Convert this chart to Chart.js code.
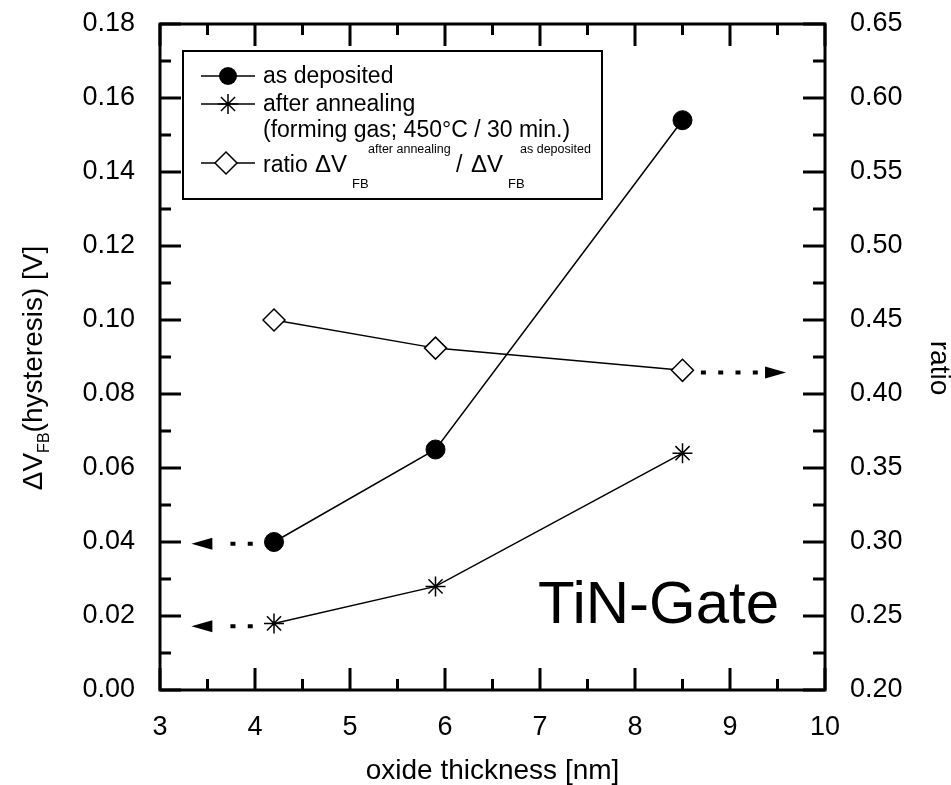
<!DOCTYPE html>
<html>
<head>
<meta charset="utf-8">
<script src="https://cdn.jsdelivr.net/npm/chart.js@4.4.1/dist/chart.umd.min.js"></script>
<style>
  html, body { margin: 0; padding: 0; background: #fff; }
  #wrap { width: 951px; height: 785px; }
</style>
</head>
<body>
<div id="wrap"><canvas id="chart" width="951" height="785"></canvas></div>
<script>
// values
const thickness = [4.2, 5.9, 8.5];                 // oxide thickness [nm]
const asDeposited = [0.040, 0.065, 0.154];         // dVFB [V]
const afterAnnealing = [0.018, 0.028, 0.064];      // dVFB [V]
const ratio = [0.450, 0.431, 0.416];               // after / as deposited

const xTicks = [3, 4, 5, 6, 7, 8, 9, 10];
const yTicks = [0, 0.02, 0.04, 0.06, 0.08, 0.10, 0.12, 0.14, 0.16, 0.18];
const y2Ticks = [0.20, 0.25, 0.30, 0.35, 0.40, 0.45, 0.50, 0.55, 0.60, 0.65];

// dotted arrows pointing at the axis each curve belongs to: [fromX, toX, y, axis]
const axisArrows = [
    [3.95, 3.33, 0.0395, 'y'],
    [3.95, 3.33, 0.0172, 'y'],
    [8.72, 9.59, 0.4145, 'y2']
];

const FONT = 'Arial, "Liberation Sans", Helvetica, sans-serif';

const pts = (ys) => thickness.map((x, i) => ({ x: x, y: ys[i] }));
const fixTicks = (arr) => (scale) => { scale.ticks = arr.map(v => ({ value: v })); };

// plot frame, inward ticks on all four sides
const frameTicks = {
    id: 'frameTicks',
    afterDraw(chart) {
        const { ctx, chartArea: a, scales } = chart;
        ctx.save();
        ctx.strokeStyle = '#000';
        ctx.lineWidth = 3;
        ctx.lineCap = 'butt';
        ctx.beginPath();
        const tick = (x1, y1, x2, y2) => { ctx.moveTo(x1, y1); ctx.lineTo(x2, y2); };
        // x (bottom and top)
        for (let v = 3; v <= 10.001; v += 0.5) {
            const px = scales.x.getPixelForValue(v);
            const len = Math.abs(v - Math.round(v)) < 1e-6 ? 22 : 11;
            tick(px, a.bottom, px, a.bottom - len);
            tick(px, a.top, px, a.top + len);
        }
        // left
        for (let i = 0; i <= 18; i++) {
            const py = scales.y.getPixelForValue(i * 0.01);
            tick(a.left, py, a.left + (i % 2 === 0 ? 21 : 11), py);
        }
        // right
        for (let i = 0; i <= 18; i++) {
            const py = scales.y2.getPixelForValue(0.2 + i * 0.025);
            tick(a.right, py, a.right - (i % 2 === 0 ? 22 : 12), py);
        }
        ctx.stroke();
        ctx.strokeRect(a.left, a.top, a.right - a.left, a.bottom - a.top);
        ctx.restore();
    }
};

// the dotted arrows, legend, titles and label
const decorations = {
    id: 'decorations',
    afterDraw(chart) {
        const { ctx, scales } = chart;
        ctx.save();

        // arrows
        axisArrows.forEach(([x0, x1, yv, axis]) => {
            const px0 = scales.x.getPixelForValue(x0);
            const px1 = scales.x.getPixelForValue(x1);
            const py = scales[axis].getPixelForValue(yv);
            const dir = Math.sign(px1 - px0);
            const headLen = 21;
            const base = px1 - dir * headLen;
            ctx.strokeStyle = '#000';
            ctx.lineWidth = 4;
            ctx.setLineDash([5, 12.3]);
            ctx.beginPath();
            ctx.moveTo(px0 - dir * 2.5, py);
            ctx.lineTo(base - dir * 6, py);
            ctx.stroke();
            ctx.setLineDash([]);
            ctx.fillStyle = '#000';
            ctx.beginPath();
            ctx.moveTo(px1, py);
            ctx.lineTo(base, py - 6);
            ctx.lineTo(base, py + 6);
            ctx.closePath();
            ctx.fill();
        });

        // legend box
        ctx.fillStyle = '#fff';
        ctx.fillRect(183, 51, 419, 148);
        ctx.strokeStyle = '#000';
        ctx.lineWidth = 2;
        ctx.strokeRect(183, 51, 419, 148);

        const sample = (y, style) => {
            ctx.strokeStyle = '#000';
            ctx.lineWidth = 1.5;
            ctx.beginPath();
            ctx.moveTo(201, y);
            ctx.lineTo(255, y);
            ctx.stroke();
            if (style === 'circle') {
                ctx.fillStyle = '#000';
                ctx.beginPath();
                ctx.arc(228, y, 9, 0, Math.PI * 2);
                ctx.fill();
            } else if (style === 'star') {
                ctx.beginPath();
                for (let k = 0; k < 4; k++) {
                    const ang = k * Math.PI / 4;
                    ctx.moveTo(228 - Math.cos(ang) * 10, y - Math.sin(ang) * 10);
                    ctx.lineTo(228 + Math.cos(ang) * 10, y + Math.sin(ang) * 10);
                }
                ctx.stroke();
            } else {
                ctx.fillStyle = '#fff';
                ctx.beginPath();
                ctx.moveTo(226, y - 11);
                ctx.lineTo(237, y);
                ctx.lineTo(226, y + 11);
                ctx.lineTo(215, y);
                ctx.closePath();
                ctx.fill();
                ctx.stroke();
            }
        };

        ctx.textBaseline = 'alphabetic';
        ctx.textAlign = 'left';
        const main = '23px ' + FONT;
        const small = '13px ' + FONT;
        const sup = '12.5px ' + FONT;
        const text = (txt, font, x, y) => {
            ctx.fillStyle = '#000';
            ctx.font = font;
            ctx.fillText(txt, x, y);
        };

        sample(76, 'circle');
        text('as deposited', main, 263, 83);
        sample(104, 'star');
        text('after annealing', main, 263, 111);
        text('(forming gas; 450°C / 30 min.)', main, 263, 137);

        sample(163, 'diamond');
        // ratio ΔV_FB^after annealing / ΔV_FB^as deposited
        text('ratio', main, 263, 172);
        text('\u0394V', '24px ' + FONT, 315, 172);
        text('FB', small, 352, 188);
        text('after annealing', sup, 368, 153);
        text('/', main, 456, 172);
        text('\u0394V', '24px ' + FONT, 471, 172);
        text('FB', small, 508, 188);
        text('as deposited', sup, 520, 153);

        // left axis title (rotated)
        ctx.save();
        ctx.translate(42, 368);
        ctx.rotate(-Math.PI / 2);
        const tMain = '28px ' + FONT;
        const tSub = '16px ' + FONT;
        ctx.font = tMain;
        const w1 = ctx.measureText('\u0394V').width;
        const w3 = ctx.measureText('(hysteresis) [V]').width;
        ctx.font = tSub;
        const w2 = ctx.measureText('FB').width;
        let tx = -(w1 + w2 + w3) / 2;
        ctx.font = tMain;
        ctx.fillText('\u0394V', tx, 0);
        tx += w1;
        ctx.font = tSub;
        ctx.fillText('FB', tx, 7);
        tx += w2;
        ctx.font = tMain;
        ctx.fillText('(hysteresis) [V]', tx, 0);
        ctx.restore();

        // right axis title
        ctx.save();
        ctx.translate(931, 368);
        ctx.rotate(Math.PI / 2);
        ctx.font = tMain;
        ctx.textAlign = 'center';
        ctx.fillText('ratio', 0, 0);
        ctx.restore();

        // x axis title
        ctx.font = tMain;
        ctx.textAlign = 'center';
        ctx.fillText('oxide thickness [nm]', (chart.chartArea.left + chart.chartArea.right) / 2, 779);

        // big label
        ctx.font = '60px ' + FONT;
        ctx.textAlign = 'left';
        ctx.fillText('TiN-Gate', 538, 623);

        ctx.restore();
    }
};

const tickFont = { family: FONT, size: 27 };

new Chart(document.getElementById('chart'), {
    type: 'scatter',
    data: {
        datasets: [
            {
                label: 'as deposited',
                data: pts(asDeposited),
                yAxisID: 'y',
                showLine: true,
                borderColor: '#000',
                borderWidth: 1.5,
                backgroundColor: '#000',
                pointStyle: 'circle',
                pointRadius: 9.5,
                pointBorderWidth: 1
            },
            {
                label: 'after annealing',
                data: pts(afterAnnealing),
                yAxisID: 'y',
                showLine: true,
                borderColor: '#000',
                borderWidth: 1.5,
                backgroundColor: '#000',
                pointStyle: 'star',
                pointRadius: 10,
                pointBorderWidth: 1.5
            },
            {
                label: 'ratio',
                data: pts(ratio),
                yAxisID: 'y2',
                showLine: true,
                borderColor: '#000',
                borderWidth: 1.5,
                backgroundColor: '#fff',
                pointStyle: 'rectRot',
                pointRadius: 11,
                pointBorderWidth: 1.5
            }
        ]
    },
    options: {
        responsive: false,
        animation: false,
        layout: { padding: { top: 24, left: 0, right: 0, bottom: 0 } },
        plugins: {
            legend: { display: false },
            tooltip: { enabled: false }
        },
        scales: {
            x: {
                type: 'linear',
                min: 3,
                max: 10,
                afterBuildTicks: fixTicks(xTicks),
                afterFit: (s) => { s.height = 95; s.paddingLeft = 0; s.paddingRight = 0; },
                grid: { display: false, drawTicks: false },
                border: { display: false },
                ticks: {
                    font: tickFont,
                    color: '#000',
                    padding: 21,
                    maxRotation: 0,
                    autoSkip: false,
                    callback: (v) => String(v)
                }
            },
            y: {
                type: 'linear',
                position: 'left',
                min: 0,
                max: 0.18,
                afterBuildTicks: fixTicks(yTicks),
                afterFit: (s) => { s.width = 160; s.paddingTop = 0; s.paddingBottom = 0; },
                grid: { display: false, drawTicks: false },
                border: { display: false },
                ticks: {
                    font: tickFont,
                    color: '#000',
                    padding: 25,
                    autoSkip: false,
                    callback: (v) => v.toFixed(2)
                }
            },
            y2: {
                type: 'linear',
                position: 'right',
                min: 0.2,
                max: 0.65,
                afterBuildTicks: fixTicks(y2Ticks),
                afterFit: (s) => { s.width = 126; s.paddingTop = 0; s.paddingBottom = 0; },
                grid: { display: false, drawTicks: false },
                border: { display: false },
                ticks: {
                    font: tickFont,
                    color: '#000',
                    padding: 25,
                    autoSkip: false,
                    callback: (v) => v.toFixed(2)
                }
            }
        }
    },
    plugins: [frameTicks, decorations]
});
</script>
</body>
</html>
